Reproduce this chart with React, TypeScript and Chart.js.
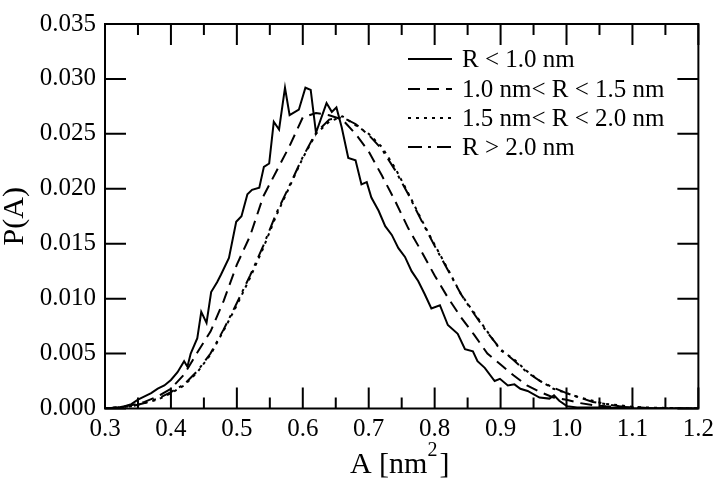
import React, { useEffect, useRef } from "react";
import { Chart, registerables } from "chart.js";

Chart.register(...registerables);

// Tick values
const xTickValues = [0.3, 0.4, 0.5, 0.6, 0.7, 0.8, 0.9, 1.0, 1.1, 1.2];
const xMinorTickValues = [0.35, 0.45, 0.55, 0.65, 0.75, 0.85, 0.95, 1.05, 1.15];
const yTickValues = [0, 0.005, 0.01, 0.015, 0.02, 0.025, 0.03, 0.035];

const seriesLabels = ["R < 1.0 nm", "1.0 nm< R < 1.5 nm", "1.5 nm< R < 2.0 nm", "R > 2.0 nm"];
const xTitleMain = "A [nm";
const xTitleSup = "2";
const xTitleEnd = "]";
const yTitle = "P(A)";

// R < 1.0 nm (solid)
const solidA = [0.3, 0.31, 0.32, 0.33, 0.34, 0.35, 0.36, 0.37, 0.38, 0.39, 0.4, 0.41, 0.42, 0.425, 0.43, 0.44, 0.446, 0.454, 0.461, 0.47, 0.476, 0.488, 0.499, 0.507, 0.516, 0.523, 0.534, 0.541, 0.549, 0.556, 0.564, 0.573, 0.58, 0.594, 0.604, 0.612, 0.62, 0.636, 0.644, 0.651, 0.659, 0.669, 0.68, 0.689, 0.697, 0.704, 0.715, 0.725, 0.735, 0.745, 0.755, 0.765, 0.775, 0.785, 0.795, 0.808, 0.82, 0.835, 0.846, 0.858, 0.865, 0.876, 0.891, 0.899, 0.911, 0.921, 0.93, 0.941, 0.959, 0.974, 0.981, 0.989, 1.001, 1.016, 1.05, 1.08, 1.1, 1.2];
const solidP = [0, 0.00005, 0.0001, 0.0002, 0.0004, 0.0008, 0.0011, 0.0014, 0.0018, 0.0021, 0.0026, 0.0033, 0.0043, 0.0038, 0.005, 0.0064, 0.0088, 0.0078, 0.0106, 0.0115, 0.0122, 0.0137, 0.017, 0.0175, 0.0195, 0.0199, 0.0201, 0.022, 0.0223, 0.0261, 0.0254, 0.0292, 0.0267, 0.0272, 0.0292, 0.029, 0.0251, 0.0278, 0.027, 0.0274, 0.0256, 0.0228, 0.0226, 0.0204, 0.0206, 0.0192, 0.018, 0.0166, 0.0158, 0.0146, 0.0138, 0.0125, 0.0116, 0.0104, 0.0091, 0.0094, 0.0076, 0.0068, 0.0054, 0.0052, 0.0043, 0.0037, 0.0025, 0.0027, 0.0021, 0.0022, 0.0018, 0.0016, 0.001, 0.0009, 0.0012, 0.0007, 0.0002, 0.0001, 0.0001, 0.00005, 0, 0];

// 1.0 nm < R < 1.5 nm (dashed)
const dashedA = [0.3, 0.32, 0.34, 0.36, 0.38, 0.4, 0.42, 0.44, 0.46, 0.48, 0.5, 0.52, 0.54, 0.56, 0.58, 0.6, 0.62, 0.64, 0.66, 0.68, 0.7, 0.72, 0.74, 0.76, 0.78, 0.8, 0.82, 0.84, 0.86, 0.88, 0.9, 0.92, 0.94, 0.96, 0.98, 1.0, 1.02, 1.04, 1.06, 1.1, 1.15, 1.2];
const dashedP = [0, 0.0001, 0.0003, 0.0006, 0.0011, 0.0018, 0.0031, 0.0051, 0.007, 0.0098, 0.0131, 0.0157, 0.0193, 0.0216, 0.0239, 0.0265, 0.0269, 0.0267, 0.0263, 0.025, 0.0234, 0.0212, 0.0189, 0.0164, 0.0143, 0.0121, 0.0101, 0.0083, 0.0067, 0.005, 0.004, 0.003, 0.0021, 0.0015, 0.001, 0.0008, 0.0005, 0.0003, 0.0002, 0.0001, 0, 0];

// 1.5 nm < R < 2.0 nm (dotted) and R > 2.0 nm (dash-dot)
const wideA = [0.3, 0.32, 0.34, 0.36, 0.38, 0.4, 0.42, 0.44, 0.46, 0.48, 0.5, 0.52, 0.54, 0.56, 0.58, 0.6, 0.62, 0.64, 0.66, 0.68, 0.7, 0.72, 0.74, 0.76, 0.78, 0.8, 0.82, 0.84, 0.86, 0.88, 0.9, 0.92, 0.94, 0.96, 0.98, 1.0, 1.02, 1.04, 1.06, 1.08, 1.1, 1.12, 1.15, 1.2];
const dottedP = [0, 0.0001, 0.0002, 0.0005, 0.0008, 0.0014, 0.0021, 0.0033, 0.0049, 0.0071, 0.0094, 0.0119, 0.0146, 0.0176, 0.0202, 0.0228, 0.025, 0.0261, 0.0266, 0.0258, 0.025, 0.0238, 0.0219, 0.0196, 0.0172, 0.0149, 0.0127, 0.0104, 0.0087, 0.007, 0.0053, 0.0045, 0.0034, 0.0025, 0.0018, 0.0014, 0.001, 0.0007, 0.0004, 0.0003, 0.00015, 0.0001, 0.00005, 0];
const dashDotP = [0, 0.0001, 0.0002, 0.0005, 0.0009, 0.0015, 0.0022, 0.0034, 0.005, 0.0072, 0.0096, 0.0121, 0.0148, 0.0178, 0.0203, 0.0229, 0.0251, 0.0263, 0.0265, 0.0259, 0.0249, 0.0236, 0.0217, 0.0195, 0.0171, 0.0148, 0.0126, 0.0104, 0.0086, 0.0069, 0.0054, 0.0044, 0.0033, 0.0025, 0.0019, 0.0014, 0.001, 0.0006, 0.0004, 0.0002, 0.0001, 0.00005, 0, 0];

const FONT = "'Liberation Serif', 'Times New Roman', serif";

const toPts = (xs: number[], ys: number[]) => xs.map((x, i) => ({ x, y: ys[i] }));

const frameTicksPlugin = {
  id: "frameTicks",
  afterDatasetsDraw(chart: any) {
    const { ctx, chartArea } = chart;
    const { left, right, top, bottom } = chartArea;
    const xs = chart.scales.x;
    const ys = chart.scales.y;
    ctx.save();
    ctx.strokeStyle = "#000";
    ctx.lineWidth = 2;
    ctx.setLineDash([]);
    ctx.beginPath();
    const major = 21;
    const minor = 11;
    xTickValues.forEach((v) => {
      const px = xs.getPixelForValue(v);
      ctx.moveTo(px, bottom);
      ctx.lineTo(px, bottom - major);
      ctx.moveTo(px, top);
      ctx.lineTo(px, top + major);
    });
    xMinorTickValues.forEach((v) => {
      const px = xs.getPixelForValue(v);
      ctx.moveTo(px, bottom);
      ctx.lineTo(px, bottom - minor);
      ctx.moveTo(px, top);
      ctx.lineTo(px, top + minor);
    });
    yTickValues.forEach((v) => {
      const py = ys.getPixelForValue(v);
      ctx.moveTo(left, py);
      ctx.lineTo(left + major, py);
      ctx.moveTo(right, py);
      ctx.lineTo(right - major, py);
    });
    ctx.stroke();
    ctx.strokeRect(left, top, right - left, bottom - top);
    ctx.restore();
  },
};

const titlesPlugin = {
  id: "axisTitles",
  afterDraw(chart: any) {
    const { ctx, chartArea } = chart;
    ctx.save();
    ctx.fillStyle = "#000";
    // x title with superscript
    const mainFont = `30px ${FONT}`;
    const supFont = `20px ${FONT}`;
    ctx.font = mainFont;
    const w1 = ctx.measureText(xTitleMain).width;
    const w3 = ctx.measureText(xTitleEnd).width;
    ctx.font = supFont;
    const w2 = ctx.measureText(xTitleSup).width;
    const total = w1 + w2 + 2 + w3;
    const cx = (chartArea.left + chartArea.right) / 2 - 2;
    let x = cx - total / 2;
    const base = 473;
    ctx.textBaseline = "alphabetic";
    ctx.textAlign = "left";
    ctx.font = mainFont;
    ctx.fillText(xTitleMain, x, base);
    x += w1;
    ctx.font = supFont;
    ctx.fillText(xTitleSup, x, base - 17);
    x += w2 + 2;
    ctx.font = mainFont;
    ctx.fillText(xTitleEnd, x, base);
    // y title rotated
    ctx.translate(15, (chartArea.top + chartArea.bottom) / 2);
    ctx.rotate(-Math.PI / 2);
    ctx.textAlign = "center";
    ctx.textBaseline = "middle";
    ctx.font = mainFont;
    ctx.fillText(yTitle, 0, 0);
    ctx.restore();
  },
};

const legendPlugin = {
  id: "customLegend",
  afterDatasetsDraw(chart: any) {
    const { ctx } = chart;
    const x0 = 408;
    const x1 = 452;
    const tx = 462;
    const rows = [59, 89, 118, 147];
    ctx.save();
    chart.data.datasets.forEach((ds: any, i: number) => {
      const y = rows[i];
      ctx.strokeStyle = "#000";
      ctx.lineWidth = 2;
      ctx.setLineDash(ds.borderDash || []);
      ctx.beginPath();
      ctx.moveTo(x0, y);
      ctx.lineTo(x1, y);
      ctx.stroke();
      ctx.setLineDash([]);
      ctx.fillStyle = "#000";
      ctx.font = `25px ${FONT}`;
      ctx.textBaseline = "middle";
      ctx.textAlign = "left";
      ctx.fillText(ds.label, tx, y + 1);
    });
    ctx.restore();
  },
};

export default function App() {
  const ref = useRef<HTMLCanvasElement>(null);
  useEffect(() => {
    if (!ref.current) return;
    const common = { borderColor: "#000", borderWidth: 2, pointRadius: 0, tension: 0, fill: false };
    const chart = new Chart(ref.current, {
      type: "line",
      data: {
        datasets: [
          { ...common, label: seriesLabels[0], data: toPts(solidA, solidP), borderDash: [] },
          { ...common, label: seriesLabels[1], data: toPts(dashedA, dashedP), borderDash: [12, 7] },
          { ...common, label: seriesLabels[2], data: toPts(wideA, dottedP), borderDash: [3, 5] },
          { ...common, label: seriesLabels[3], data: toPts(wideA, dashDotP), borderDash: [14, 6, 3, 6] },
        ],
      },
      options: {
        animation: false,
        responsive: false,
        maintainAspectRatio: false,
        layout: { padding: { left: 0, top: 11, right: 18, bottom: 0 } },
        plugins: { legend: { display: false }, tooltip: { enabled: false } },
        scales: {
          x: {
            type: "linear",
            min: 0.3,
            max: 1.2,
            afterBuildTicks: (s: any) => {
              s.ticks = xTickValues.map((v) => ({ value: v }));
            },
            afterFit: (s: any) => {
              s.height = 71.5;
            },
            ticks: {
              callback: (v: any) => Number(v).toFixed(1),
              font: { family: FONT, size: 25 },
              color: "#000",
              padding: 6,
              maxRotation: 0,
              autoSkip: false,
            },
            grid: { display: false, drawTicks: false, tickLength: 0 },
            border: { display: false },
            title: { display: false },
          },
          y: {
            type: "linear",
            min: 0,
            max: 0.035,
            afterBuildTicks: (s: any) => {
              s.ticks = yTickValues.map((v) => ({ value: v }));
            },
            afterFit: (s: any) => {
              s.width = 105;
            },
            ticks: {
              callback: (v: any) => Number(v).toFixed(3),
              font: { family: FONT, size: 25 },
              color: "#000",
              padding: 9,
              autoSkip: false,
            },
            grid: { display: false, drawTicks: false, tickLength: 0 },
            border: { display: false },
            title: { display: false },
          },
        },
      } as any,
      plugins: [frameTicksPlugin, legendPlugin, titlesPlugin],
    });
    return () => chart.destroy();
  }, []);
  return (
    <div style={{ position: "fixed", left: 0, top: 0, width: 720, height: 480, background: "#fff" }}>
      <canvas ref={ref} width={720} height={480} style={{ display: "block" }} />
    </div>
  );
}
